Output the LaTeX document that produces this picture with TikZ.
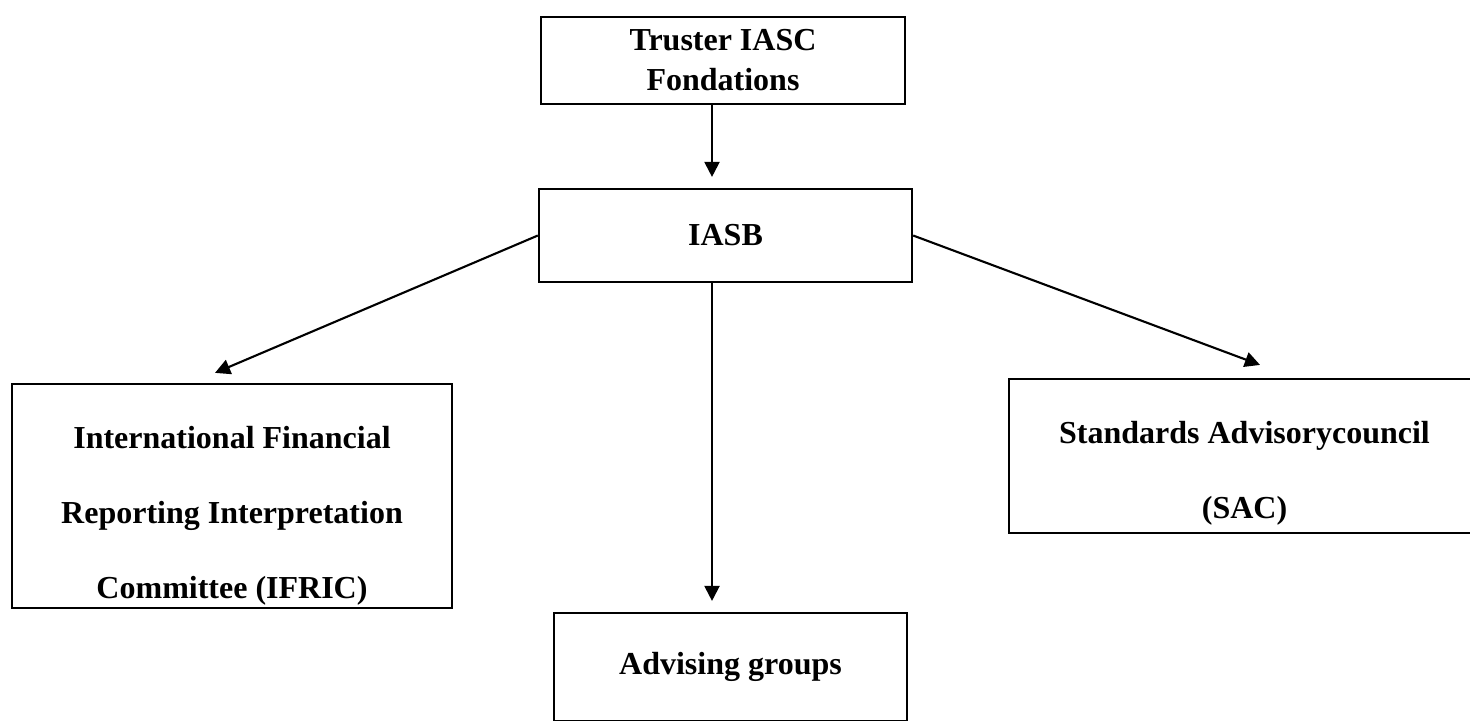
\documentclass[tikz,border=0pt]{standalone}
\usepackage{fontspec}
\setmainfont{Liberation Serif}
\usetikzlibrary{arrows.meta}
\tikzset{
  box/.style={draw, line width=0.6pt, align=center, inner sep=0pt,
    font=\bfseries\fontsize{9.1}{11.4}\selectfont},
  boxtext/.style={align=center, inner sep=0pt,
    font=\bfseries\fontsize{9.1}{21.3}\selectfont},
  arr/.style={-{Triangle[length=4.3pt,width=4.3pt]}, line width=0.6pt},
}
\begin{document}
\begin{tikzpicture}[x=0.01cm, y=-0.01cm]
  \useasboundingbox (0,0) rectangle (1470,720);
  \clip (0,0) rectangle (1470,720);

  \node[box, minimum width=3.64cm, minimum height=0.87cm] (trust) at (723,60.5) {Truster IASC\\Fondations};
  \node[box, minimum width=3.73cm, minimum height=0.93cm] (iasb) at (725.5,235.5) {IASB};
  \node[box, minimum width=4.40cm, minimum height=2.24cm] (ifric) at (232,496) {};
  \node[boxtext] (ifrictext) at ([yshift=-0.195cm]ifric.center)
    {International Financial\\Reporting Interpretation\\Committee (IFRIC)};
  \node[box, minimum width=4.71cm, minimum height=1.54cm] (sac) at (1244.5,456) {};
  \node[boxtext] (sactext) at ([yshift=-0.17cm]sac.center) {Standards Advisorycouncil\\(SAC)};
  \node[box, minimum width=3.53cm, minimum height=1.08cm] (advising) at (730.5,667) {Advising groups};

  % vertical line of the chart
  \coordinate (axis) at (712,0);
  \draw[arr, shorten >=0.11cm] (trust.south -| axis) -- (iasb.north -| axis);
  \draw[arr, shorten >=0.11cm] (iasb.south -| axis) -- (advising.north -| axis);
  \draw[arr] (iasb.west) -- ([xshift=-0.17cm, yshift=0.10cm]ifric.north);
  \draw[arr] (iasb.east) -- ([xshift=0.155cm, yshift=0.13cm]sac.north);
\end{tikzpicture}
\end{document}
